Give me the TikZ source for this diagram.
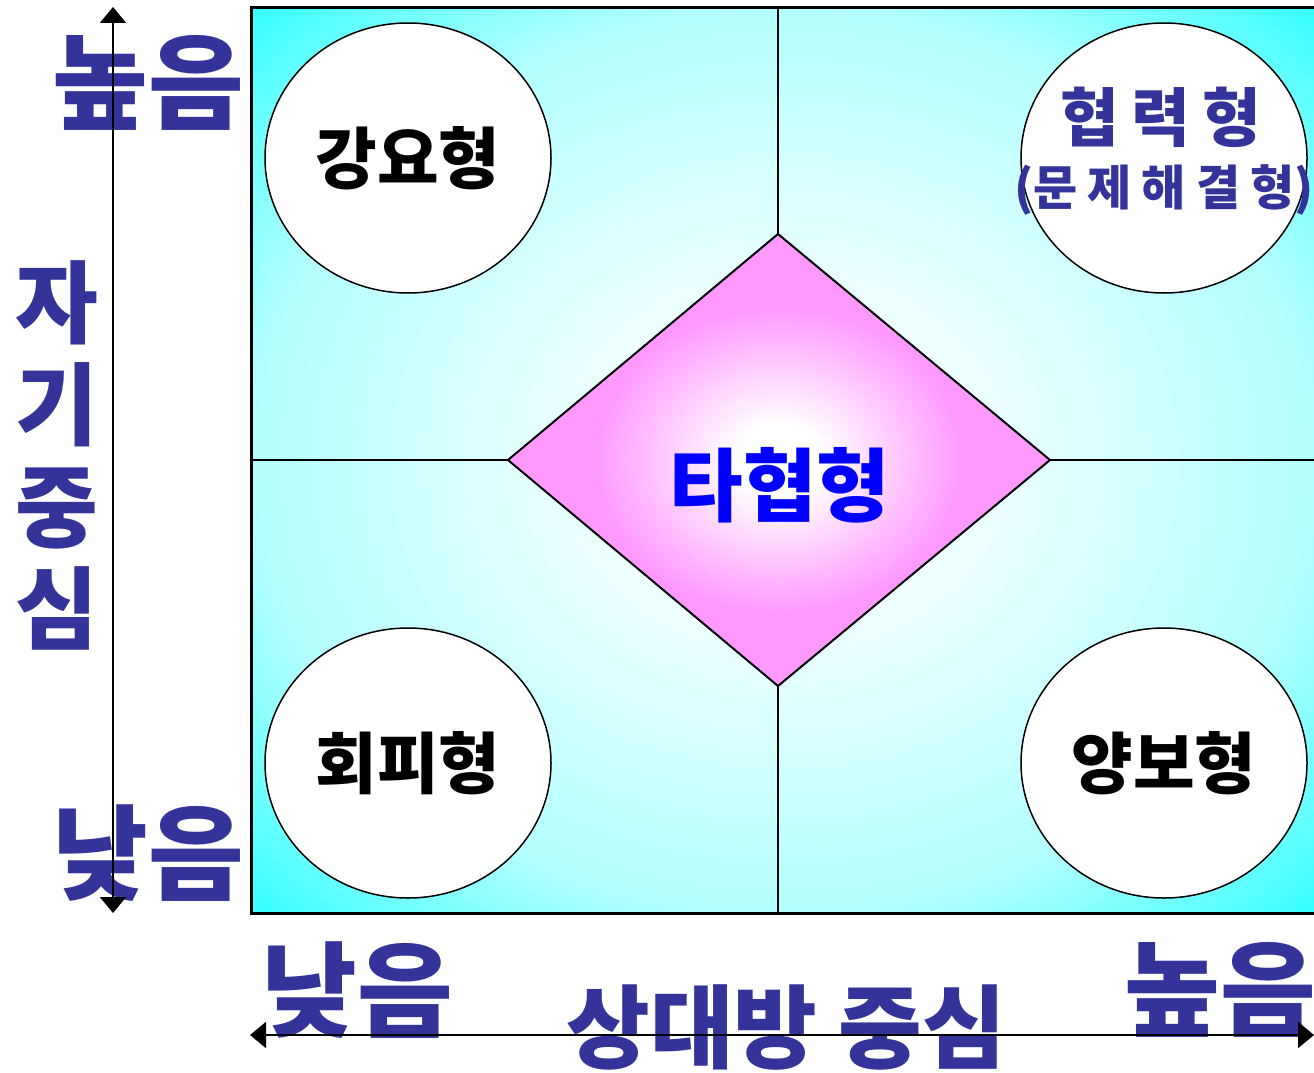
\documentclass[tikz,border=0pt]{standalone}
\usepackage{fontspec}
\newfontfamily\kr{Noto Sans CJK KR}
\usetikzlibrary{shapes.geometric,arrows.meta}
\definecolor{lbl}{HTML}{333399}
\definecolor{pinkc}{HTML}{FF99FF}
\pgfdeclareradialshading{quadshade}{\pgfpoint{0bp}{0bp}}{%
  color(0bp)=(white); color(5bp)=(white); color(13bp)=(cyan!12!white);
  color(25bp)=(cyan!30!white); color(35bp)=(cyan!78!white); color(50bp)=(cyan)}
\pgfdeclareradialshading{diashade}{\pgfpoint{0bp}{0bp}}{%
  color(0bp)=(white); color(4bp)=(white); color(17bp)=(pinkc); color(50bp)=(pinkc)}
\begin{document}
\begin{tikzpicture}[x=1pt,y=-1pt,
  every node/.style={inner sep=0pt, outer sep=0pt},
  axlbl/.style={font=\kr\bfseries\fontsize{104}{104}\selectfont, text=lbl},
  typlbl/.style={font=\kr\bfseries\fontsize{67}{67}\selectfont, text=black},
  circ/.style={ellipse, draw=black, line width=1.5pt, fill=white, minimum width=286pt, minimum height=270pt},
  grid/.style={draw=black, line width=2pt},
  axis/.style={draw=black, line width=2pt, -{Triangle[width=26pt,length=16pt]}},
]
\useasboundingbox (0,0) rectangle (1314,1073);
\clip (0,0) rectangle (1314,1073);
% frame
\coordinate (fTL) at (251,8);
\coordinate (fBR) at (1317,913);
\coordinate (mT) at (778,8);
\coordinate (mB) at (778,913);
\coordinate (mL) at (251,460);
\coordinate (mR) at (1317,460);
\coordinate (dT) at (778,234);
\coordinate (dL) at (508,460);
\coordinate (dB) at (778,686);
\coordinate (dR) at (1050,460);
\shade[shading=quadshade] (fTL) rectangle (fBR);
\draw[grid] (mT) -- (dT);
\draw[grid] (dB) -- (mB);
\draw[grid] (mL) -- (dL);
\draw[grid] (dR) -- (mR);
\shade[shading=diashade] (dT) -- (dR) -- (dB) -- (dL) -- cycle;
\draw[line width=2pt, line join=miter] (dT) -- (dR) -- (dB) -- (dL) -- cycle;
\draw[line width=3pt] (fTL) rectangle (fBR);
% circles
\node[circ, typlbl] (c1) at (408,158) {강요형};
\node[circ] (c2) at (1164,158) {};
\node[circ, typlbl] (c3) at (408,763) {회피형};
\node[circ, typlbl] (c4) at (1164,763) {양보형};
\node[font=\kr\bfseries\fontsize{64}{64}\selectfont, text=lbl] (t2a) at (1161,117) {협\hspace{12pt}력\hspace{12pt}형};
\node[font=\kr\bfseries\fontsize{48}{48}\selectfont, text=lbl] (t2b) at (1164,190) {(문\hspace{10pt}제\hspace{10pt}해\hspace{10pt}결\hspace{10pt}형)};
\node[font=\kr\bfseries\fontsize{80}{80}\selectfont, text=blue] (tc) at (780,485) {타협형};
% axis labels
\node[axlbl] (hiL) at (148,83) {높음};
\node[axlbl] (loL) at (148,853) {낮음};
\node[axlbl] (loB) at (357,990) {낮음};
\node[axlbl] (hiB) at (1220,990) {높음};
\node[font=\kr\bfseries\fontsize{90}{102}\selectfont, text=lbl, align=center] (self) at (57,455) {자\\기\\중\\심};
\node[font=\kr\bfseries\fontsize{91}{91}\selectfont, text=lbl] (other) at (786,1027) {상대방 중심};
% axes
\coordinate (vTop) at (113,7);
\coordinate (vBot) at (113,913);
\coordinate (vMid) at (113,460);
\coordinate (hL) at (250,1035);
\coordinate (hR) at (1314,1035);
\coordinate (hMid) at (782,1035);
\draw[axis] (vMid) -- (vTop);
\draw[axis] (vMid) -- (vBot);
\draw[axis] (hMid) -- (hL);
\draw[axis] (hMid) -- (hR);
\end{tikzpicture}
\end{document}
